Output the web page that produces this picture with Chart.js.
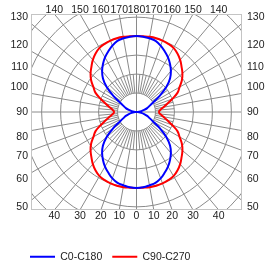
<!DOCTYPE html>
<html>
<head>
<meta charset="utf-8">
<script src="https://cdn.jsdelivr.net/npm/chart.js@4.4.1/dist/chart.umd.min.js"></script>
<style>
  html, body { margin: 0; padding: 0; background: #fff; }
</style>
</head>
<body>
<canvas id="polar" width="275" height="266"></canvas>
<script>
// gamma angle, 0 = straight down, 180 = straight up
const gammaAngles = [0, 5, 10, 15, 20, 25, 30, 35, 40, 45, 50, 55, 60, 65, 70, 75, 80, 85, 90,
  95, 100, 105, 110, 115, 120, 125, 130, 135, 140, 145, 150, 155, 160, 165, 170, 175, 180];

// intensity (cd/klm), one value per gamma angle; the opposite half-plane is the mirror
const c0c180 = [200, 199, 196, 193, 186, 176, 166, 154, 141, 125, 103, 76, 51, 38, 30, 21, 13, 7, 0,
  7, 13, 21, 30, 38, 51, 76, 103, 125, 141, 154, 166, 176, 186, 194, 197, 199, 200];
const c90c270 = [200, 200, 201, 201, 200, 198, 195, 188, 179, 168, 158, 146, 131, 119, 100, 84, 72, 63, 58,
  63, 72, 84, 100, 119, 131, 146, 158, 168, 179, 188, 195, 198, 200, 201, 201, 200, 200];

// circles of the polar grid (cd/klm)
const gridRadii = [50, 100, 150, 200, 250, 300, 350, 400];

// angle labels round the frame
const bottomAngles = [-40, -30, -20, -10, 0, 10, 20, 30, 40];
const topAngles = [-140, -150, -160, -170, 180, 170, 160, 150, 140];
const sideAngles = [50, 60, 70, 80, 90, 100, 110, 120, 130];

const X_MAX = 278;
const Y_MAX = 258;
const LABEL_SHIFT = 16;
const RAD = Math.PI / 180;
const FONT = { family: "'Liberation Sans', Arial, sans-serif", size: 10.5 };
const TEXT = '#222';

// one half of a curve: right side and left side meeting at gamma 90
function halfCurve(values, upper) {
  const right = [], left = [];
  gammaAngles.forEach((g, i) => {
    if (upper ? g >= 90 : g <= 90) {
      const r = values[i];
      right.push({ x: r * Math.sin(g * RAD), y: -r * Math.cos(g * RAD) });
      left.push({ x: -r * Math.sin(g * RAD), y: -r * Math.cos(g * RAD) });
    }
  });
  if (upper) return [...right, ...left.reverse().slice(1)];
  return [...right.reverse(), ...left.slice(1)];
}

function sideValue(g) {
  const y = -X_MAX / Math.tan(g * RAD);
  if (Math.abs(y) < 1e-6) return 0;
  return y + Math.sign(y) * LABEL_SHIFT;
}

function edgeValue(a) {
  const off = Math.abs(a) > 90 ? 180 - Math.abs(a) : Math.abs(a);
  return Math.sign(a) * Y_MAX * Math.tan(off * RAD);
}

const polarGrid = {
  id: 'polarGrid',
  afterLayout(chart) {
    // legend starts under the left edge of the plot
    chart.legend.left += 20;
    chart.legend.right += 20;
  },
  beforeDatasetsDraw(chart) {
    const { ctx, chartArea: a, scales: { x, y } } = chart;
    const cx = x.getPixelForValue(0);
    const cy = y.getPixelForValue(0);
    const k = x.getPixelForValue(1) - cx;
    ctx.save();
    ctx.beginPath();
    ctx.rect(a.left, a.top, a.width, a.height);
    ctx.clip();
    ctx.strokeStyle = '#8a8a8a';
    ctx.lineWidth = 1;
    gridRadii.forEach(r => {
      ctx.beginPath();
      ctx.arc(cx, cy, r * k, 0, Math.PI * 2);
      ctx.stroke();
    });
    for (let g = 0; g < 360; g += 5) {
      const r0 = g % 90 === 0 ? 0 : gridRadii[0];
      const r1 = g % 10 === 0 ? 1000 : gridRadii[1];
      const s = Math.sin(g * RAD), c = Math.cos(g * RAD);
      ctx.beginPath();
      ctx.moveTo(cx + s * r0 * k, cy + c * r0 * k);
      ctx.lineTo(cx + s * r1 * k, cy + c * r1 * k);
      ctx.stroke();
    }
    ctx.restore();
    ctx.save();
    ctx.strokeStyle = '#c4c4c4';
    ctx.lineWidth = 1;
    ctx.strokeRect(a.left + 0.5, a.top + 0.5, a.width - 1, a.height - 1);
    ctx.restore();
  }
};

function edgeScale(position, angles, valueOf, size, pad) {
  const horizontal = position === 'top' || position === 'bottom';
  return {
    type: 'linear',
    position: position,
    axis: horizontal ? 'x' : 'y',
    min: horizontal ? -X_MAX : -Y_MAX,
    max: horizontal ? X_MAX : Y_MAX,
    grid: { display: false, drawTicks: false },
    border: { display: false },
    afterBuildTicks: s => { s.ticks = angles.map(a => ({ value: valueOf(a) })); },
    afterFit: s => { if (horizontal) s.height = size; else s.width = size; },
    ticks: {
      autoSkip: false,
      maxRotation: 0,
      minRotation: 0,
      padding: pad,
      color: TEXT,
      font: FONT,
      callback: (v, i) => String(Math.abs(angles[i]))
    }
  };
}

const lineStyle = { showLine: true, pointRadius: 0, borderWidth: 2, tension: 0.4, fill: false };

new Chart(document.getElementById('polar'), {
  type: 'scatter',
  data: {
    datasets: [
      { label: 'C0-C180', data: halfCurve(c0c180, false), borderColor: '#0000ff', backgroundColor: '#0000ff', ...lineStyle },
      { label: 'C0-C180', data: halfCurve(c0c180, true), borderColor: '#0000ff', backgroundColor: '#0000ff', ...lineStyle },
      { label: 'C90-C270', data: halfCurve(c90c270, false), borderColor: '#ff0000', backgroundColor: '#ff0000', ...lineStyle },
      { label: 'C90-C270', data: halfCurve(c90c270, true), borderColor: '#ff0000', backgroundColor: '#ff0000', ...lineStyle }
    ]
  },
  options: {
    responsive: false,
    animation: false,
    devicePixelRatio: 1,
    layout: { padding: { left: 0, right: 0, top: 0, bottom: -6 } },
    scales: {
      x: edgeScale('bottom', bottomAngles, edgeValue, 31.5, 0),
      xTop: edgeScale('top', topAngles, edgeValue, 14, -2),
      y: edgeScale('left', sideAngles, sideValue, 31, 3),
      yRight: edgeScale('right', sideAngles, sideValue, 33, 5)
    },
    plugins: {
      legend: {
        position: 'bottom',
        align: 'start',
        labels: {
          usePointStyle: true,
          pointStyle: 'line',
          pointStyleWidth: 25,
          padding: 10,
          color: TEXT,
          font: FONT,
          filter: item => item.datasetIndex % 2 === 0
        }
      },
      tooltip: { enabled: false }
    }
  },
  plugins: [polarGrid]
});
</script>
</body>
</html>
